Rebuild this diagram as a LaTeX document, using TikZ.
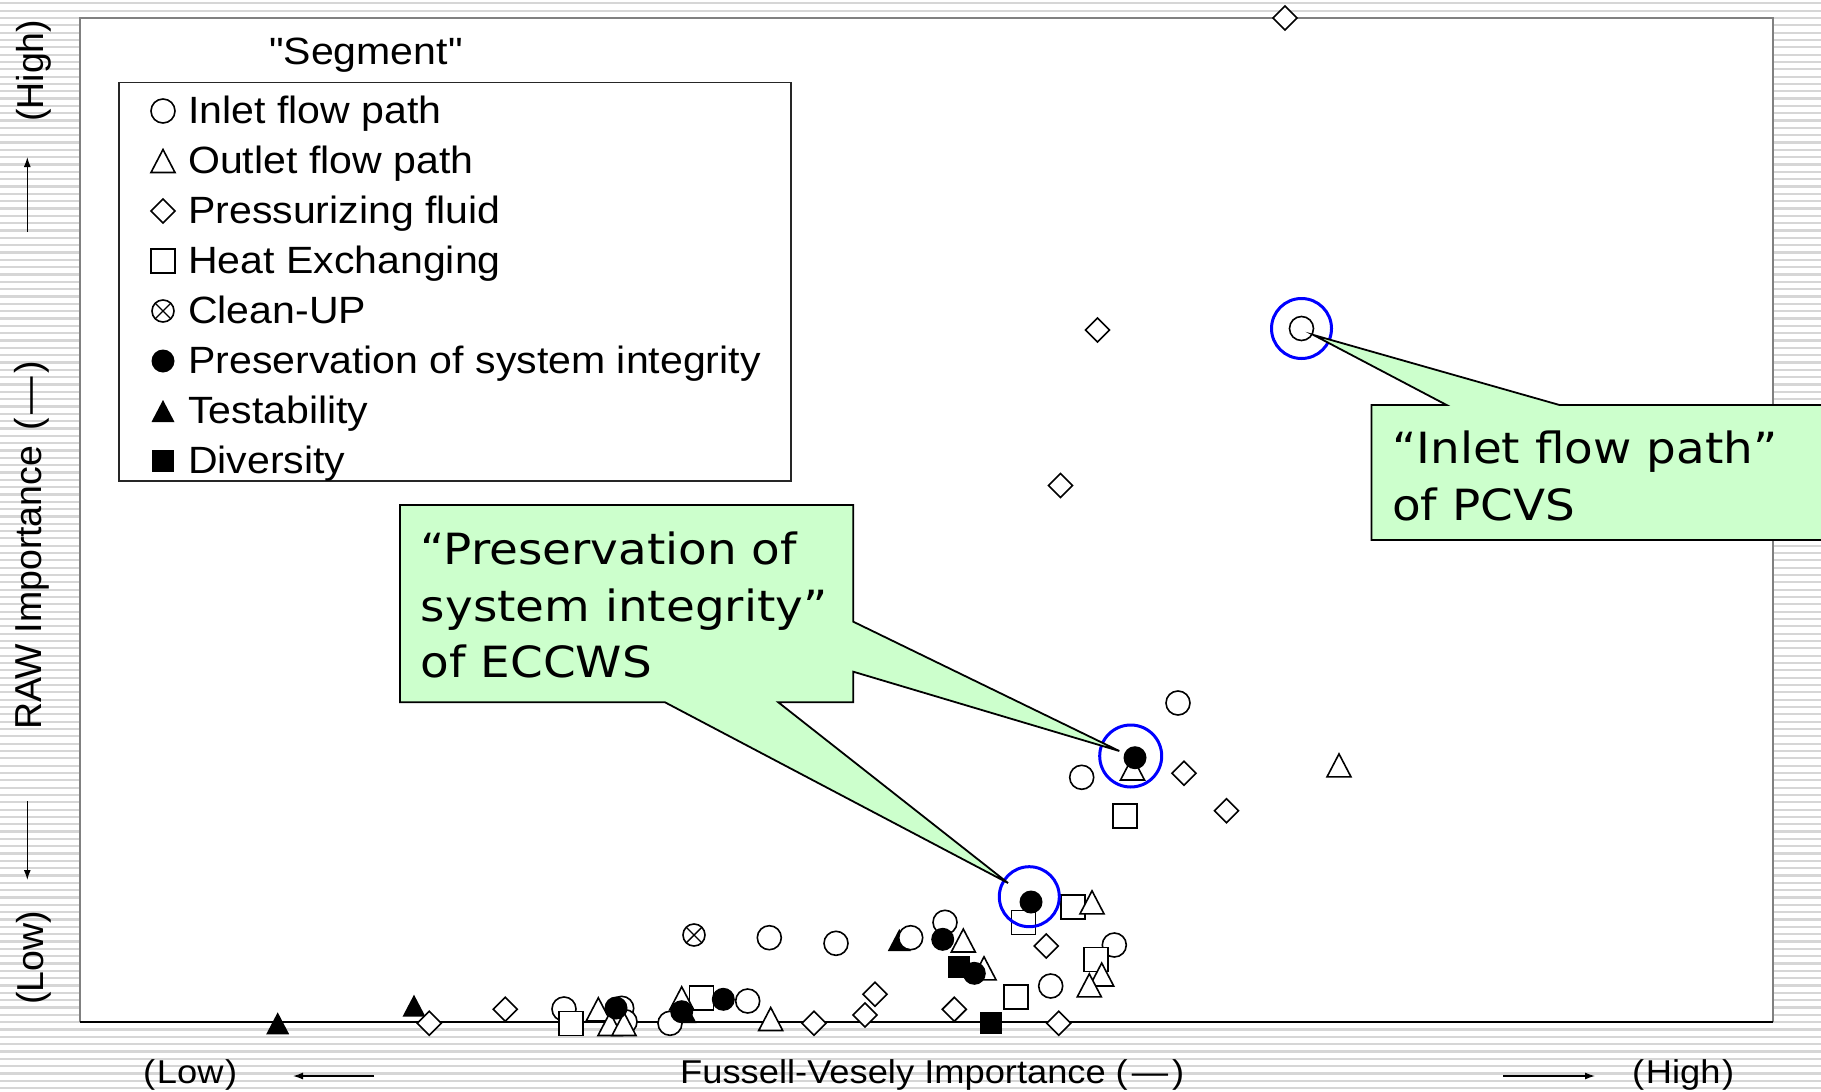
\documentclass[tikz,border=0pt]{standalone}
\usepackage{fontspec}
\setmainfont{Liberation Sans}
\newfontfamily\legfont[FakeStretch=1.08]{Liberation Sans}
\newfontfamily\axfont[FakeStretch=1.1]{Liberation Sans}
\newfontfamily\yfont{Liberation Sans}
\newfontfamily\calfont[FakeStretch=1.09]{DejaVu Sans}
\usetikzlibrary{arrows.meta}
\definecolor{stripe}{RGB}{214,214,214}
\definecolor{callgreen}{RGB}{204,255,204}
\definecolor{framegray}{RGB}{128,128,128}
\definecolor{ringblue}{RGB}{0,0,255}
\begin{document}
\begin{tikzpicture}[x=1pt,y=-1pt,
  mk/.style={draw=black, line width=1.6pt, fill=white},
  mkl/.style={draw=black, line width=1.4pt},
  pics/oc/.style={code={\draw[mk] (0,0) circle[radius=12pt];}},
  pics/ot/.style={code={\draw[mk] (-12,11.5) -- (12,11.5) -- (0,-11.5) -- cycle;}},
  pics/od/.style={code={\draw[mk] (-12,0) -- (0,-12) -- (12,0) -- (0,12) -- cycle;}},
  pics/os/.style={code={\draw[mk] (-12,-12) rectangle (12,12);}},
  pics/ox/.style={code={\draw[mk] (0,0) circle[radius=11pt]; \draw[mkl] (-7.8,-7.8) -- (7.8,7.8) (-7.8,7.8) -- (7.8,-7.8);}},
  pics/fc/.style={code={\fill[black] (0,0) circle[radius=11.5pt];}},
  pics/ft/.style={code={\fill[black] (-11.5,11) -- (11.5,11) -- (0,-11) -- cycle;}},
  pics/fs/.style={code={\fill[black] (-11,-11) rectangle (11,11);}},
  legtext/.style={anchor=base west, inner sep=0pt, font={\legfont\fontsize{38}{44}\selectfont}},
  axtext/.style={anchor=base west, inner sep=0pt, font={\axfont\fontsize{33}{38}\selectfont}},
  ytext/.style={rotate=90, anchor=base west, inner sep=0pt, font={\yfont\fontsize{37.5}{42}\selectfont}},
  caltext/.style={anchor=base west, inner sep=0pt, font={\calfont\fontsize{43}{57}\selectfont}},
  axarrow/.style={-{Latex[length=10pt,width=7pt]}, line width=1.3pt, black},
  ring/.style={circle, draw=ringblue, line width=3pt, inner sep=0pt, fill=none},
  callout/.style={draw=black, line width=1.8pt, fill=callgreen, line join=miter}
]
\useasboundingbox (0,0) rectangle (1821,1092);
% striped background
\fill[white] (0,0) rectangle (1821,1092);
\foreach \k in {0,...,148}{
  \pgfmathsetmacro\yy{3.3+7.33*\k}
  \draw[stripe, line width=2.2pt] (0,\yy) -- (1821,\yy);
}
% plot frame
\fill[white] (80,18) rectangle (1773,1022);
\draw[framegray, line width=1.5pt] (80,1022) -- (80,18) -- (1773,18) -- (1773,1022);
\draw[black, line width=1.6pt] (80,1022) -- (1773,1022);

% legend
\node[legtext] (legtitle) at (269,64) {"Segment"};
\draw[black!85, line width=1.3pt, fill=white] (119,82.5) rectangle (791,481);
\pic at (163,111) {oc};
\pic at (163,161) {ot};
\pic at (163,211) {od};
\pic at (163,261) {os};
\pic at (163,311) {ox};
\pic at (163,361) {fc};
\pic at (163,411) {ft};
\pic at (163,461) {fs};
\node[legtext] (l1) at (188,123) {Inlet flow path};
\node[legtext] (l2) at (188,173) {Outlet flow path};
\node[legtext] (l3) at (188,223) {Pressurizing fluid};
\node[legtext] (l4) at (188,273) {Heat Exchanging};
\node[legtext] (l5) at (188,323) {Clean-UP};
\node[legtext] (l6) at (188,373) {Preservation of system integrity};
\node[legtext] (l7) at (188,423) {Testability};
\node[legtext] (l8) at (188,473) {Diversity};

% y axis labels
\node[ytext] (yhigh) at (43.3,122) {(High)};
\draw[axarrow] (27.3,232) -- (27.3,157);
\node[ytext] (ylab) at (41.7,730) {RAW Importance\hspace{0.4em}(\hspace{0.1em}—\hspace{0.1em})};
\draw[axarrow] (27.3,801) -- (27.3,880);
\node[ytext] (ylow) at (43.3,1005) {(Low)};

% x axis labels
\node[axtext] (xlow) at (143,1083) {(\hspace{0.05em}Low\hspace{0.05em})};
\draw[axarrow] (374,1076) -- (293,1076);
\node[axtext] (xlab) at (680,1083) {Fussell-Vesely Importance\hspace{0.3em}(\hspace{0.12em}—\hspace{0.12em})};
\draw[axarrow] (1503,1076) -- (1595,1076);
\node[axtext] (xhigh) at (1632,1083) {(\hspace{0.05em}High\hspace{0.05em})};

% data markers
\foreach \p in {(277.7,1023.3),(414,1005.7),(685,1012),(899.3,940)} {\pic at \p {ft};}
\foreach \p in {(1301.5,328.5),(1178,703),(1081.7,777.3),(1114.3,945),(1050.7,986),(945,922.3),(910.7,937.7),(836,943.3),(769.3,937.7),(747.7,1001),(670,1023.3),(564,1009),(621.7,1008.3),(625,1021.7)} {\pic at \p {oc};}
\pic at (694,935) {ox};
\foreach \p in {(1125,816),(1023.3,922.3),(1072.7,906.7),(1096,959.3),(1015.7,996.7),(701.3,997.7),(570.7,1023.3)} {\pic at \p {os};}
\foreach \p in {(1285,18),(1097.5,330),(1060.5,485.5),(1226.5,810.7),(1184,773.3),(1046.3,946),(1058.7,1023.3),(954.3,1009.3),(875,994.3),(865,1015),(814,1023.3),(429.3,1023.3),(505.3,1009.3)} {\pic at \p {od};}
\foreach \p in {(1339,765.4),(1132.5,768.5),(1092,902.3),(1101.7,974.5),(1089.3,985.3),(963.3,940.5),(984,968.3),(770.7,1019),(681.7,998.3),(598.3,1009.3),(610,1024),(624,1024)} {\pic at \p {ot};}
\foreach \p in {(959.3,967.3),(990.7,1023.3)} {\pic at \p {fs};}
\foreach \p in {(1135,757.7),(1031,902),(942.7,939.3),(974.3,973.3),(723.3,999.3),(681.7,1011.7),(616,1008)} {\pic at \p {fc};}

% highlight rings
\node[ring, minimum size=60pt] (ringP) at (1301.5,328.5) {};
\node[ring, minimum size=62pt] (ringE1) at (1130.7,756) {};
\node[ring, minimum size=60pt] (ringE2) at (1029.3,896.7) {};

% callout tips
\coordinate (tipP) at (1313.5,335);
\coordinate (tipE1) at (1119.3,751);
\coordinate (tipE2) at (1008,883);

% ECCWS callout
\draw[callout] (400,505) -- (853.3,505) -- (853.3,621.7) -- (tipE1) -- (853.3,671.7) -- (853.3,702.3) -- (778.3,702.3) -- (tipE2) -- (665,702.3) -- (400,702.3) -- cycle;
\node[caltext] (e1) at (420.7,564) {“Preservation of};
\node[caltext] (e2) at (420.7,621) {system integrity”};
\node[caltext] (e3) at (420.7,677) {of ECCWS};

% PCVS callout
\draw[callout] (1371.5,405) -- (1446.6,405) -- (tipP) -- (1559.5,405) -- (1840,405) -- (1840,540) -- (1371.5,540) -- cycle;
\node[caltext] (p1) at (1392,463) {“Inlet flow path”};
\node[caltext] (p2) at (1392,520) {of PCVS};
\end{tikzpicture}
\end{document}
